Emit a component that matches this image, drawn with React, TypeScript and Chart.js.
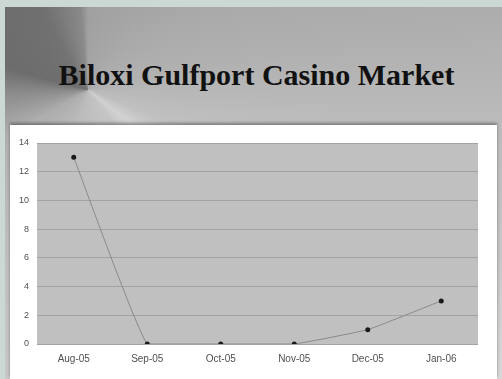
import React, { useEffect, useRef } from "react";
import { Chart, registerables } from "chart.js";

Chart.register(...registerables);

const titleText = "Biloxi Gulfport Casino Market";
const categories = ["Aug-05", "Sep-05", "Oct-05", "Nov-05", "Dec-05", "Jan-06"];
const values = [13, 0, 0, 0, 1, 3];
const yTicks = [0, 2, 4, 6, 8, 10, 12, 14];

export default function App() {
  const ref = useRef<HTMLCanvasElement>(null);

  useEffect(() => {
    const plotBg = {
      id: "plotBg",
      beforeDraw(chart: any) {
        const { ctx, chartArea } = chart;
        const { left, top, right, bottom } = chartArea;
        ctx.save();
        ctx.fillStyle = "#c0c0c0";
        ctx.fillRect(left, top, right - left, bottom - top);
        ctx.restore();
      },
    };
    const chart = new Chart(ref.current!, {
      type: "line",
      data: {
        labels: categories,
        datasets: [
          {
            data: values,
            borderColor: "#8a8a8a",
            borderWidth: 1,
            pointRadius: 2.5,
            pointBackgroundColor: "#1a1a1a",
            pointBorderColor: "#1a1a1a",
            pointBorderWidth: 0,
            tension: 0.1,
          },
        ],
      },
      options: {
        responsive: false,
        animation: false,
        devicePixelRatio: 1,
        layout: { padding: { left: 0, top: 18, right: 19, bottom: 0 } },
        plugins: { legend: { display: false }, tooltip: { enabled: false } },
        scales: {
          x: {
            offset: true,
            grid: { display: false, drawTicks: false },
            border: { display: false },
            ticks: {
              padding: 9,
              color: "#505050",
              maxRotation: 0,
              autoSkip: false,
              font: { family: "'Liberation Sans', Arial, sans-serif", size: 10 },
            },
            afterFit: (s: any) => {
              s.height = 35;
            },
          },
          y: {
            min: 0,
            max: 14,
            afterBuildTicks: (s: any) => {
              s.ticks = yTicks.map((v) => ({ value: v }));
            },
            ticks: {
              padding: 8,
              color: "#505050",
              font: { family: "'Liberation Sans', Arial, sans-serif", size: 9 },
            },
            grid: { color: "#a3a3a3", lineWidth: 1, drawTicks: false },
            border: { display: false },
            afterFit: (s: any) => {
              s.width = 27;
            },
          },
        },
      },
      plugins: [plotBg],
    } as any);
    return () => chart.destroy();
  }, []);

  return (
    <div
      style={{
        position: "absolute",
        left: 0,
        top: 0,
        width: 502,
        height: 379,
        background: "#cdd7d3",
        overflow: "hidden",
      }}
    >
      <div
        style={{
          position: "absolute",
          left: 5,
          top: 7,
          width: 497,
          height: 372,
          background:
            "linear-gradient(180deg, rgba(0,0,0,0.04) 0%, rgba(255,255,255,0.04) 35%, rgba(255,255,255,0.2) 100%), conic-gradient(from 0deg at 83px 83px, #a6a6a6 0deg, #b4b4b4 80deg, #c0c0c0 112deg, #d2d2d2 128deg, #c4c4c4 142deg, #bcbcbc 190deg, #acacac 240deg, #8a8a8a 268deg, #6c6c6c 285deg, #747474 330deg, #8e8e8e 355deg, #a6a6a6 360deg)",
        }}
      />
      <div
        style={{
          position: "absolute",
          left: 8,
          top: 60,
          width: 497,
          textAlign: "center",
          fontFamily: "'Liberation Serif', 'Times New Roman', serif",
          fontWeight: "bold",
          fontSize: 30,
          lineHeight: "30px",
          color: "#111",
          whiteSpace: "nowrap",
        }}
      >
        {titleText}
      </div>
      <div
        style={{
          position: "absolute",
          left: 10,
          top: 125,
          width: 487,
          height: 254,
          background: "#ffffff",
          boxShadow: "0 -2px 3px rgba(0,0,0,0.35)",
        }}
      >
        <canvas ref={ref} width={487} height={254} style={{ display: "block" }} />
      </div>
    </div>
  );
}
